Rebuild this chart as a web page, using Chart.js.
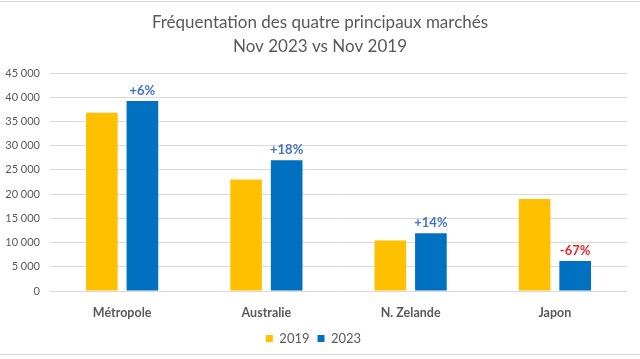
<!DOCTYPE html>
<html>
<head>
<meta charset="utf-8">
<script src="https://cdn.jsdelivr.net/npm/chart.js@4"></script>
<style>
  html, body { margin: 0; padding: 0; background: #fff; }
  #wrap { position: relative; width: 640px; height: 359px; }
</style>
</head>
<body>
<div id="wrap"><canvas id="chart"></canvas></div>
<script>
const categories = ['Métropole', 'Australie', 'N. Zelande', 'Japon'];
const values2019 = [36800, 23000, 10400, 19000];
const values2023 = [39200, 27000, 11900, 6200];
const changeLabels = ['+6%', '+18%', '+14%', '-67%'];
const titleLines = ['Fréquentation des quatre principaux marchés', 'Nov 2023 vs Nov 2019'];
const yTicks = [0, 5000, 10000, 15000, 20000, 25000, 30000, 35000, 40000, 45000];

const font = 'Lato';
const grey = '#595959';

function formatThousands(v) {
  return String(v).replace(/\B(?=(\d{3})+(?!\d))/g, ' ');
}

// frame lines + two-line title, drawn by hand to place them exactly
const frame = {
  id: 'frame',
  beforeDraw(chart) {
    const ctx = chart.ctx;
    ctx.save();
    ctx.strokeStyle = '#d9d9d9';
    ctx.lineWidth = 1;
    ctx.beginPath();
    ctx.moveTo(0, 1.5); ctx.lineTo(640, 1.5);
    ctx.moveTo(0, 354.5); ctx.lineTo(640, 354.5);
    ctx.stroke();
    ctx.fillStyle = grey;
    ctx.font = '17px ' + font;
    ctx.textAlign = 'center';
    ctx.textBaseline = 'middle';
    ctx.fillText(titleLines[0], 320, 23);
    ctx.fillText(titleLines[1], 320, 47);
    ctx.restore();
  },
};

const changeLabelPlugin = {
  id: 'changeLabels',
  afterDatasetsDraw(chart) {
    const ctx = chart.ctx;
    const meta = chart.getDatasetMeta(1);
    ctx.save();
    ctx.font = 'bold 13px ' + font;
    ctx.textAlign = 'center';
    ctx.textBaseline = 'alphabetic';
    meta.data.forEach((bar, i) => {
      const txt = changeLabels[i];
      ctx.fillStyle = txt.startsWith('-') ? '#e8262b' : '#4472c4';
      ctx.fillText(txt, bar.x, bar.y - 6);
    });
    ctx.restore();
  },
};

new Chart(document.getElementById('chart'), {
  type: 'bar',
  data: {
    labels: categories,
    datasets: [
      { label: '2019', data: values2019, backgroundColor: '#ffc000' },
      { label: '2023', data: values2023, backgroundColor: '#0070c0' },
    ],
  },
  options: {
    responsive: true,
    maintainAspectRatio: false,
    animation: false,
    categoryPercentage: 0.5625,
    barPercentage: 0.78,
    layout: { padding: { left: 0, right: 13, top: 73, bottom: 4 } },
    plugins: {
      title: { display: false },
      legend: {
        position: 'bottom',
        labels: {
          color: grey,
          font: { family: font, size: 13 },
          boxWidth: 7,
          boxHeight: 7,
          padding: 8,
        },
      },
      tooltip: { enabled: false },
    },
    scales: {
      x: {
        grid: { display: false },
        border: { display: false },
        afterFit(axis) { axis.height = 33; },
        ticks: { color: grey, font: { family: font, size: 12.5, weight: 'bold' }, padding: 6 },
      },
      y: {
        min: 0,
        max: 45000,
        afterBuildTicks(axis) { axis.ticks = yTicks.map(v => ({ value: v })); },
        afterFit(axis) { axis.width = 50; },
        grid: { color: '#d9d9d9', drawTicks: false },
        border: { display: false },
        ticks: {
          color: grey,
          font: { family: font, size: 11 },
          padding: 10,
          callback: v => formatThousands(v),
        },
      },
    },
  },
  plugins: [frame, changeLabelPlugin],
});
</script>
</body>
</html>
